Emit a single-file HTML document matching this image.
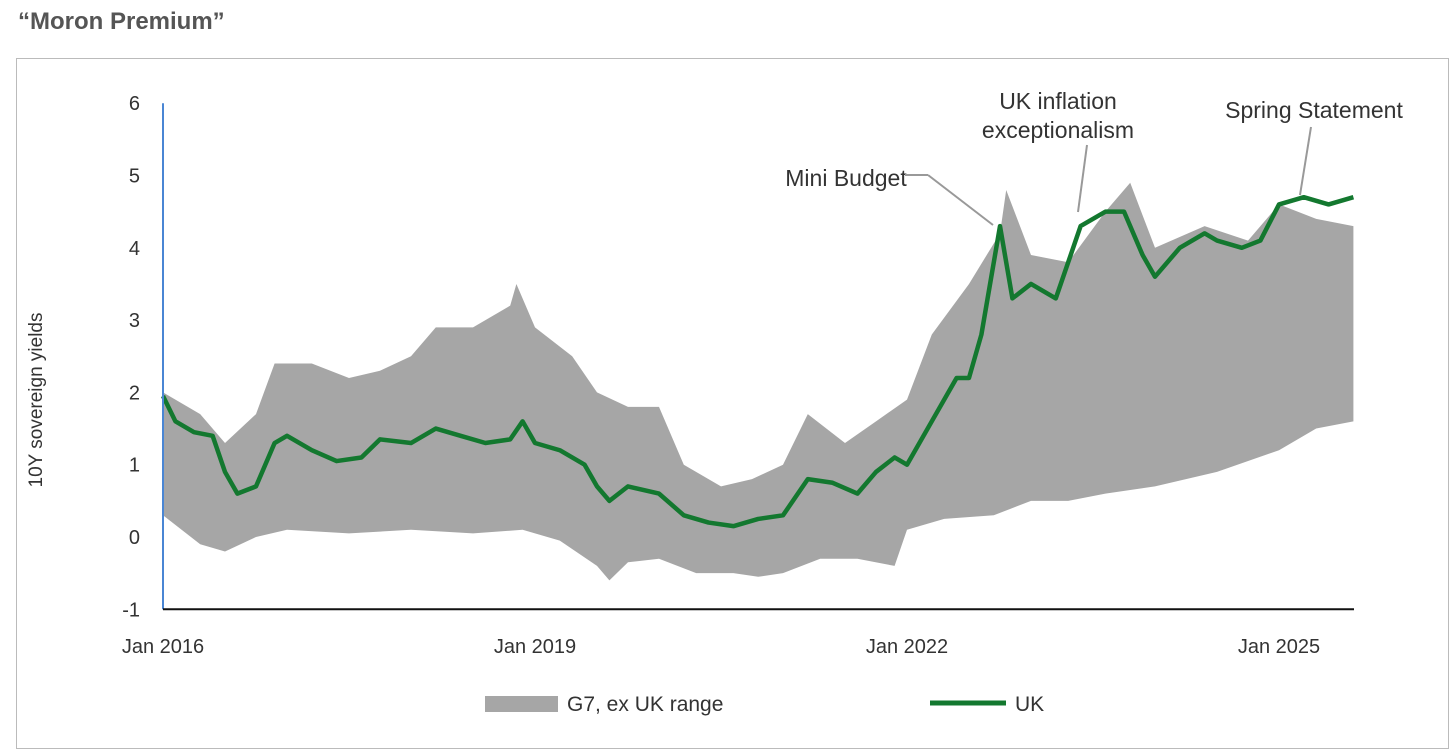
<!DOCTYPE html>
<html><head><meta charset="utf-8">
<style>
body{margin:0;background:#fff;width:1456px;height:756px;overflow:hidden;font-family:"Liberation Sans",sans-serif;}
#title{position:absolute;left:18px;top:8px;font-size:24px;font-weight:bold;color:#555;}
#box{position:absolute;left:16px;top:58px;width:1431px;height:689px;border:1px solid #bbb;}
svg{position:absolute;left:0;top:0;}
text{font-family:"Liberation Sans",sans-serif;fill:#333;}
</style></head><body>
<div id="title">“Moron Premium”</div>
<div id="box"></div>
<svg id="chart" width="1456" height="756"></svg>
<script>
const ukDates=[2016.0,2016.1,2016.25,2016.4,2016.5,2016.6,2016.75,2016.9,2017.0,2017.2,2017.4,2017.6,2017.75,2018.0,2018.2,2018.4,2018.6,2018.8,2018.9,2019.0,2019.2,2019.4,2019.5,2019.6,2019.75,2020.0,2020.2,2020.4,2020.6,2020.8,2021.0,2021.2,2021.4,2021.6,2021.75,2021.9,2022.0,2022.2,2022.4,2022.5,2022.6,2022.75,2022.85,2023.0,2023.2,2023.4,2023.6,2023.75,2023.9,2024.0,2024.2,2024.4,2024.5,2024.7,2024.85,2025.0,2025.2,2025.4,2025.6];
const ukValues=[1.95,1.6,1.45,1.4,0.9,0.6,0.7,1.3,1.4,1.2,1.05,1.1,1.35,1.3,1.5,1.4,1.3,1.35,1.6,1.3,1.2,1.0,0.7,0.5,0.7,0.6,0.3,0.2,0.15,0.25,0.3,0.8,0.75,0.6,0.9,1.1,1.0,1.6,2.2,2.2,2.8,4.3,3.3,3.5,3.3,4.3,4.5,4.5,3.9,3.6,4.0,4.2,4.1,4.0,4.1,4.6,4.7,4.6,4.7];
const upperDates=[2016.0,2016.3,2016.5,2016.75,2016.9,2017.2,2017.5,2017.75,2018.0,2018.2,2018.5,2018.8,2018.85,2019.0,2019.3,2019.5,2019.75,2020.0,2020.2,2020.5,2020.75,2021.0,2021.2,2021.5,2021.75,2022.0,2022.2,2022.5,2022.75,2022.8,2023.0,2023.3,2023.6,2023.8,2024.0,2024.4,2024.75,2025.0,2025.3,2025.6];
const upperValues=[2.0,1.7,1.3,1.7,2.4,2.4,2.2,2.3,2.5,2.9,2.9,3.2,3.5,2.9,2.5,2.0,1.8,1.8,1.0,0.7,0.8,1.0,1.7,1.3,1.6,1.9,2.8,3.5,4.2,4.8,3.9,3.8,4.5,4.9,4.0,4.3,4.1,4.6,4.4,4.3];
const lowerDates=[2016.0,2016.3,2016.5,2016.75,2017.0,2017.5,2018.0,2018.5,2018.9,2019.2,2019.5,2019.6,2019.75,2020.0,2020.3,2020.6,2020.8,2021.0,2021.3,2021.6,2021.9,2022.0,2022.3,2022.7,2023.0,2023.3,2023.6,2024.0,2024.5,2025.0,2025.3,2025.6];
const lowerValues=[0.3,-0.1,-0.2,0.0,0.1,0.05,0.1,0.05,0.1,-0.05,-0.4,-0.6,-0.35,-0.3,-0.5,-0.5,-0.55,-0.5,-0.3,-0.3,-0.4,0.1,0.25,0.3,0.5,0.5,0.6,0.7,0.9,1.2,1.5,1.6];
const yTicks=[6,5,4,3,2,1,0,-1];
const xTickYears=[2016,2019,2022,2025];

const NS='http://www.w3.org/2000/svg';
const svg=document.getElementById('chart');
const X=t=>163+(t-2016)*124;
const Y=v=>537-v*72.3;
function mk(tag,attrs,parent){const e=document.createElementNS(NS,tag);for(const k in attrs)e.setAttribute(k,attrs[k]);(parent||svg).appendChild(e);return e;}

let d='M'+upperDates.map((t,i)=>X(t)+','+Y(upperValues[i])).join('L');
for(let i=lowerDates.length-1;i>=0;i--)d+='L'+X(lowerDates[i])+','+Y(lowerValues[i]);
const area=mk('path',{d:d+'Z',fill:'#a6a6a6'});



const uk=mk('path',{d:'M'+ukDates.map((t,i)=>X(t)+','+Y(ukValues[i])).join('L'),fill:'none',stroke:'#13782f','stroke-width':4.5,'stroke-linejoin':'round'});



const ya=mk('line',{x1:163,y1:Y(6),x2:163,y2:Y(-1),stroke:'#4a86d4','stroke-width':2});


const xa=mk('line',{x1:163,y1:Y(-1),x2:1354,y2:Y(-1),stroke:'#111','stroke-width':2});



yTicks.forEach(v=>{const t=mk('text',{x:140,y:Y(v)+7,'font-size':20,'text-anchor':'end'});t.textContent=v;

});
xTickYears.forEach(yr=>{const t=mk('text',{x:X(yr),y:653,'font-size':20,'text-anchor':'middle'});t.textContent='Jan '+yr;

});

const yt=mk('text',{x:0,y:0,'font-size':19,'text-anchor':'middle',transform:'translate(42,400) rotate(-90)'});yt.textContent='10Y sovereign yields';



function ann(lines,x,y0,name,lx1,ly1,lx2,ly2,anchor){
 lines.forEach((s,i)=>{const t=mk('text',{x:x,y:y0+i*29,'font-size':23,'text-anchor':anchor});t.textContent=s;
 
 });
 const l=mk('polyline',{points:lx1+','+ly1+' '+lx2+','+ly2,fill:'none',stroke:'#999','stroke-width':2});
 
 
}
ann(['Mini Budget'],846,186,'annotation-mini-budget',928,175,993,225,'middle');
const l2=mk('polyline',{points:'905,175 928,175',fill:'none',stroke:'#999','stroke-width':2});


ann(['UK inflation','exceptionalism'],1058,109,'annotation-uk-inflation',1087,145,1078,212,'middle');
ann(['Spring Statement'],1314,118,'annotation-spring-statement',1311,127,1300,195,'middle');

const lr=mk('rect',{x:485,y:696,width:73,height:16,fill:'#a6a6a6'});


const lt=mk('text',{x:567,y:711,'font-size':21});lt.textContent='G7, ex UK range';


const ll=mk('line',{x1:930,y1:703,x2:1006,y2:703,stroke:'#13782f','stroke-width':5});


const lt2=mk('text',{x:1015,y:711,'font-size':21});lt2.textContent='UK';


</script>
</body></html>
